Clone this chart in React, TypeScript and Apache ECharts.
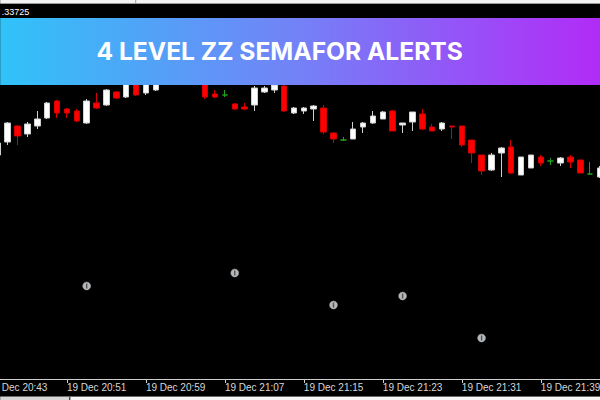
import React, { useEffect, useRef } from "react";
import * as echarts from "echarts";

// Time axis: one category per minute, starting at 19 Dec 20:43
const firstMinute = 20 * 60 + 43;
const minuteCount = 63;
const categories: string[] = Array.from({ length: minuteCount }, (_, k) => {
  const m = firstMinute + k;
  const hh = String(Math.floor(m / 60)).padStart(2, "0");
  const mm = String(m % 60).padStart(2, "0");
  return `19 Dec ${hh}:${mm}`;
});

// Candles start at 20:44 (category index 1)
const opens = [
  1.33663, 1.33676, 1.33692, 1.33684, 1.33692, 1.337, 1.33717, 1.33709, 1.33707, 1.33695,
  1.33715, 1.33713, 1.33726, 1.33721, 1.33735, 1.33725, 1.33728, 1.33736, 1.33748, 1.33762,
  1.33756, 1.3374, 1.33724, 1.33723, 1.33714, 1.33711, 1.33713, 1.33726, 1.33728, 1.33732,
  1.33705, 1.33707, 1.33709, 1.3371, 1.33685, 1.33678, 1.33679, 1.33691, 1.33695, 1.33699,
  1.33707, 1.33693, 1.33696, 1.33704, 1.33691, 1.33689, 1.33692, 1.33692, 1.33678, 1.33663,
  1.33648, 1.33665, 1.33671, 1.33643, 1.3365, 1.33661, 1.33657, 1.33655, 1.33661, 1.33658,
  1.33644, 1.33641,
];
const closes = [
  1.33675, 1.33695, 1.33682, 1.33694, 1.33699, 1.33715, 1.33705, 1.33705, 1.33697, 1.33717,
  1.3371, 1.33728, 1.3372, 1.33734, 1.33723, 1.33738, 1.33734, 1.33748, 1.3376, 1.33752,
  1.3374, 1.33721, 1.33721, 1.33723, 1.33709, 1.33709, 1.3373, 1.3373, 1.33733, 1.33707,
  1.3371, 1.3371, 1.33712, 1.33686, 1.33679, 1.33678, 1.33689, 1.33695, 1.33702, 1.33706,
  1.33687, 1.33695, 1.33706, 1.33689, 1.33687, 1.33695, 1.33691, 1.33673, 1.33665, 1.33647,
  1.33663, 1.3367, 1.33645, 1.33661, 1.33663, 1.33655, 1.33657, 1.3366, 1.33656, 1.33645,
  1.33644, 1.3365,
];
const lows = [
  1.33661, 1.33673, 1.33673, 1.33681, 1.33689, 1.33699, 1.337, 1.337, 1.33696, 1.33694,
  1.33709, 1.33712, 1.33719, 1.3372, 1.33722, 1.33723, 1.33727, 1.33734, 1.33746, 1.3375,
  1.33734, 1.33719, 1.3372, 1.33721, 1.33708, 1.33708, 1.33707, 1.33725, 1.33725, 1.33706,
  1.33704, 1.33704, 1.33697, 1.33684, 1.33675, 1.33677, 1.33679, 1.33685, 1.33694, 1.33699,
  1.33687, 1.33685, 1.33687, 1.33688, 1.33687, 1.33687, 1.33679, 1.33671, 1.33655, 1.33643,
  1.33647, 1.33641, 1.33644, 1.33643, 1.3365, 1.33652, 1.33653, 1.33652, 1.3365, 1.33645,
  1.33643, 1.3364,
];
const highs = [
  1.33677, 1.33696, 1.33693, 1.33696, 1.33707, 1.33716, 1.33718, 1.3371, 1.33709, 1.33719,
  1.33725, 1.33729, 1.33727, 1.33736, 1.33738, 1.3374, 1.33736, 1.3375, 1.33763, 1.33766,
  1.33758, 1.33742, 1.33728, 1.33728, 1.33715, 1.33715, 1.33732, 1.33732, 1.33734, 1.33734,
  1.33711, 1.33711, 1.33713, 1.33713, 1.33686, 1.33681, 1.33696, 1.33696, 1.33707, 1.33707,
  1.33708, 1.33695, 1.33706, 1.33709, 1.33694, 1.33696, 1.33692, 1.33692, 1.33678, 1.33663,
  1.33665, 1.33671, 1.33678, 1.33661, 1.33663, 1.33663, 1.3366, 1.33661, 1.33663, 1.33658,
  1.33656, 1.33652,
];

// Semafor markers: candle index (0 = 20:44) and price level
const semaforCandles = [9, 24, 34, 41, 49];
const semaforPrices = [1.33532, 1.33545, 1.33513, 1.33522, 1.3348];

const priceMin = 1.33439;
const priceMax = 1.338;
const topPrice = ".33725";
const title = "4 LEVEL ZZ SEMAFOR ALERTS";

const BULL = "#ffffff";
const BULL_WICK = "#cfcfcf";
const BEAR = "#ff0000";
const BEAR_WICK = "#d40000";
const DOJI = "#22a022";

// The chart canvas is shifted left so the first (20:43) slot sits off-screen
const OX = 17.2;
const CHART_W = 622.4;

export default function App() {
  const ref = useRef<HTMLDivElement>(null);
  useEffect(() => {
    document.body.style.margin = "0";
    const chart = echarts.init(ref.current!, null, { renderer: "svg" });

    const candleData = opens.map((o, i) => {
      const value = [i + 1, o, closes[i], lows[i], highs[i]];
      if (o === closes[i]) {
        return {
          value,
          itemStyle: { color: DOJI, color0: DOJI, borderColor: DOJI, borderColor0: DOJI, borderColorDoji: DOJI },
        };
      }
      return { value };
    });
    const semaforData = semaforCandles.map((c, k) => [c + 1, semaforPrices[k]]);

    chart.setOption({
      animation: false,
      backgroundColor: "#000000",
      grid: { left: 0, right: 0, top: 18, bottom: 21, containLabel: false },
      xAxis: {
        type: "category",
        data: categories,
        boundaryGap: true,
        axisLine: { show: true, lineStyle: { color: "#cfcfcf", width: 1 } },
        axisTick: { show: true, interval: 7, alignWithLabel: true, length: 4, lineStyle: { color: "#cfcfcf" } },
        axisLabel: {
          show: true,
          interval: 7,
          align: "left",
          color: "#d8d8d8",
          fontFamily: "Liberation Sans",
          fontSize: 10,
          lineHeight: 12,
          margin: 2,
        },
        splitLine: { show: false },
      },
      yAxis: {
        type: "value",
        min: priceMin,
        max: priceMax,
        show: false,
        splitLine: { show: false },
      },
      series: [
        {
          type: "candlestick",
          data: candleData,
          encode: { x: 0, y: [1, 2, 3, 4] },
          barWidth: 6,
          itemStyle: {
            color: BULL,
            color0: BEAR,
            borderColor: BULL_WICK,
            borderColor0: BEAR_WICK,
            borderColorDoji: DOJI,
            borderWidth: 1,
          },
          z: 2,
        },
        {
          type: "scatter",
          data: semaforData,
          symbol: "circle",
          symbolSize: 8,
          itemStyle: { color: "#e2e6e8", borderColor: "#9aa0a4", borderWidth: 0.6 },
          z: 3,
        },
        {
          type: "scatter",
          data: semaforData,
          symbol: "rect",
          symbolSize: [1.4, 5],
          itemStyle: { color: "#3a3a3a" },
          z: 4,
        },
      ],
      graphic: [
        { type: "rect", z: 100, shape: { x: OX, y: 0, width: 600, height: 3 }, style: { fill: "#f2f2f2" } },
        { type: "line", z: 101, shape: { x1: OX, y1: 3.5, x2: OX + 600, y2: 3.5 }, style: { stroke: "#9a9a9a", lineWidth: 1 } },
        { type: "line", z: 101, shape: { x1: OX + 135.5, y1: 0, x2: OX + 135.5, y2: 3 }, style: { stroke: "#9a9a9a", lineWidth: 1 } },
        {
          type: "text",
          z: 101,
          x: OX + 1.5,
          y: 12,
          style: { text: topPrice, fill: "#ffffff", fontSize: 9, fontFamily: "Liberation Sans", verticalAlign: "middle" },
        },
        {
          type: "rect",
          z: 100,
          shape: { x: OX, y: 18, width: 600, height: 67 },
          style: {
            fill: new echarts.graphic.LinearGradient(0, 0, 1, 0, [
              { offset: 0, color: "#30c3f8" },
              { offset: 0.5, color: "#7481f7" },
              { offset: 1, color: "#b22bf7" },
            ]),
          },
        },
        {
          type: "text",
          z: 102,
          x: OX + 279.5,
          y: 51,
          style: {
            text: title,
            fill: "#ffffff",
            fontSize: 24.6,
            fontWeight: 700,
            fontFamily: "Inter",
            align: "center",
            verticalAlign: "middle",
          },
        },
        { type: "line", z: 101, shape: { x1: OX, y1: 396.5, x2: OX + 600, y2: 396.5 }, style: { stroke: "#6a6a6a", lineWidth: 1 } },
        { type: "rect", z: 100, shape: { x: OX, y: 397, width: 69, height: 3 }, style: { fill: "#d6d6d6" } },
        { type: "rect", z: 100, shape: { x: OX + 70, y: 397, width: 530, height: 3 }, style: { fill: "#f6f6f6" } },
        { type: "line", z: 101, shape: { x1: OX + 69.5, y1: 397, x2: OX + 69.5, y2: 400 }, style: { stroke: "#505050", lineWidth: 1 } },
      ],
    });
    return () => chart.dispose();
  }, []);
  return (
    <div style={{ position: "relative", width: 600, height: 400, overflow: "hidden", background: "#000" }}>
      <div ref={ref} style={{ position: "absolute", left: -OX, top: 0, width: CHART_W, height: 400 }} />
    </div>
  );
}
